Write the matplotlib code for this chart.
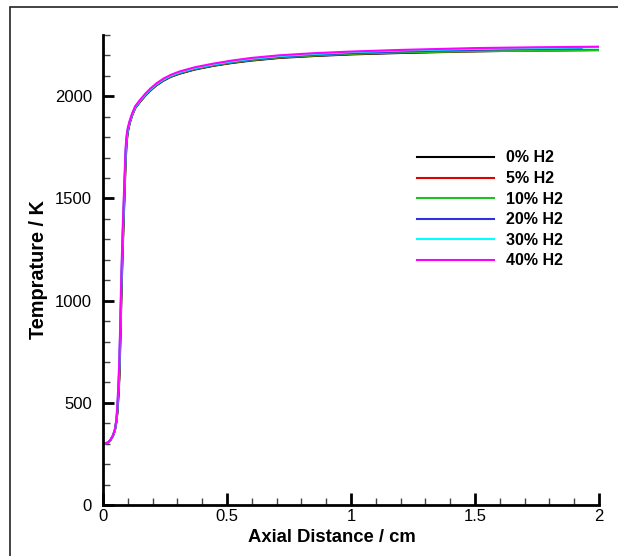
import numpy as np
import matplotlib
matplotlib.use("Agg")
import matplotlib.pyplot as plt
from matplotlib.patches import Rectangle
from matplotlib.ticker import MultipleLocator

plt.rcParams['font.family'] = ['Liberation Sans', 'DejaVu Sans']

nan = np.nan
x = [0.0, 0.01, 0.02, 0.03, 0.04, 0.048, 0.054, 0.058, 0.062, 0.066, 0.070, 0.074,
     0.079, 0.085, 0.091, 0.095, 0.100, 0.108, 0.118, 0.130, 0.149, 0.17, 0.19,
     0.215, 0.243, 0.275, 0.31, 0.37, 0.445, 0.52, 0.6, 0.714, 0.85, 1.0, 1.2,
     1.5, 1.75, 1.93, 2.0]

T_0 = [300, 301, 306, 318, 338, 366, 405, 450, 525, 620, 800, 1010, 1230, 1450, 1670,
       1770, 1825, 1870, 1908, 1942, 1972, 2002, 2027, 2053, 2076, 2096, 2111, 2131,
       2149, 2163, 2175, 2188, 2197, 2205, 2212, 2220, 2224, 2227, nan]
T_5 = [300, 301, 306, 318, 338, 366, 410, 460, 540, 645, 830, 1040, 1255, 1470, 1690,
       1780, 1830, 1872, 1910, 1944, 1974, 2004, 2029, 2055, 2078, 2098, 2113, 2133,
       2151, 2165, 2177, 2190, 2199, 2207, 2214, 2221, 2224, 2226, 2227]
T_10 = [300, 301, 306, 318, 338, 366, 410, 465, 550, 660, 850, 1060, 1270, 1485, 1700,
        1785, 1832, 1873, 1911, 1945, 1975, 2005, 2030, 2056, 2079, 2099, 2114, 2134,
        2152, 2166, 2178, 2191, 2200, 2208, 2215, 2221, 2223, 2224, 2225]
T_20 = [300, 301, 306, 318, 338, 367, 412, 470, 560, 675, 870, 1080, 1290, 1500, 1710,
        1790, 1835, 1875, 1912, 1946, 1976, 2006, 2031, 2057, 2080, 2100, 2116, 2136,
        2154, 2169, 2181, 2194, 2204, 2212, 2220, 2228, 2233, 2236, nan]
T_30 = [300, 301, 306, 318, 339, 368, 415, 480, 575, 695, 895, 1105, 1315, 1520, 1725,
        1798, 1840, 1878, 1914, 1948, 1978, 2008, 2033, 2059, 2082, 2102, 2118, 2138,
        2156, 2171, 2184, 2197, 2207, 2216, 2224, 2232, 2236, 2239, 2240]
T_40 = [300, 301, 306, 318, 340, 370, 420, 490, 590, 715, 920, 1130, 1340, 1545, 1745,
        1808, 1846, 1882, 1918, 1952, 1982, 2012, 2037, 2063, 2086, 2106, 2122, 2142,
        2160, 2175, 2188, 2201, 2211, 2219, 2227, 2236, 2240, 2242, 2243]

labels = ['0% H2', '5% H2', '10% H2', '20% H2', '30% H2', '40% H2']
series = [T_0, T_5, T_10, T_20, T_30, T_40]
colors = ['#000000', '#e00000', '#20c020', '#3030e0', '#00ffff', '#ff00ff']

fig = plt.figure(figsize=(6.18, 5.56), dpi=100)
ax = fig.add_axes([103/618, 1 - 505/556, 496/618, 470/556])

for T, c, lab in zip(series, colors, labels):
    ax.plot(x, T, color=c, lw=1.5, label=lab)

ax.set_xlim(0, 2)
ax.set_ylim(0, 2300)
ax.xaxis.set_major_locator(MultipleLocator(0.5))
ax.xaxis.set_minor_locator(MultipleLocator(0.1))
ax.yaxis.set_major_locator(MultipleLocator(500))
ax.yaxis.set_minor_locator(MultipleLocator(100))
ax.set_xticks([0, 0.5, 1, 1.5, 2])
ax.set_xticklabels(['0', '0.5', '1', '1.5', '2'])

for s in ['top', 'right']:
    ax.spines[s].set_visible(False)
for s in ['left', 'bottom']:
    ax.spines[s].set_linewidth(2)

ax.tick_params(which='major', direction='in', length=9, width=2, labelsize=12, pad=3)
ax.tick_params(which='minor', direction='in', length=5, width=1, color='#444444')
ax.tick_params(axis='y', which='major', length=8, pad=8)

ax.set_xlabel('Axial Distance / cm', fontsize=13.3, fontweight='bold')
ax.set_ylabel('Temprature / K', fontsize=14.3, fontweight='bold')
ax.xaxis.set_label_coords(0.462, -0.051)
ax.yaxis.set_label_coords(-0.111, 0.5)

leg = ax.legend(loc='upper left', bbox_to_anchor=(417/618, 1 - 150.5/556),
                bbox_transform=fig.transFigure, frameon=False,
                prop={'weight': 'bold', 'size': 11.5}, handlelength=4.8,
                handletextpad=0.8, labelspacing=0.35, borderpad=0, borderaxespad=0)

fig.patches.append(Rectangle((10/618, -0.05), 1.2, 1.05 - 7/556, transform=fig.transFigure,
                             fill=False, edgecolor='#222222', lw=1.2))

fig.savefig('out.png', dpi=100)
